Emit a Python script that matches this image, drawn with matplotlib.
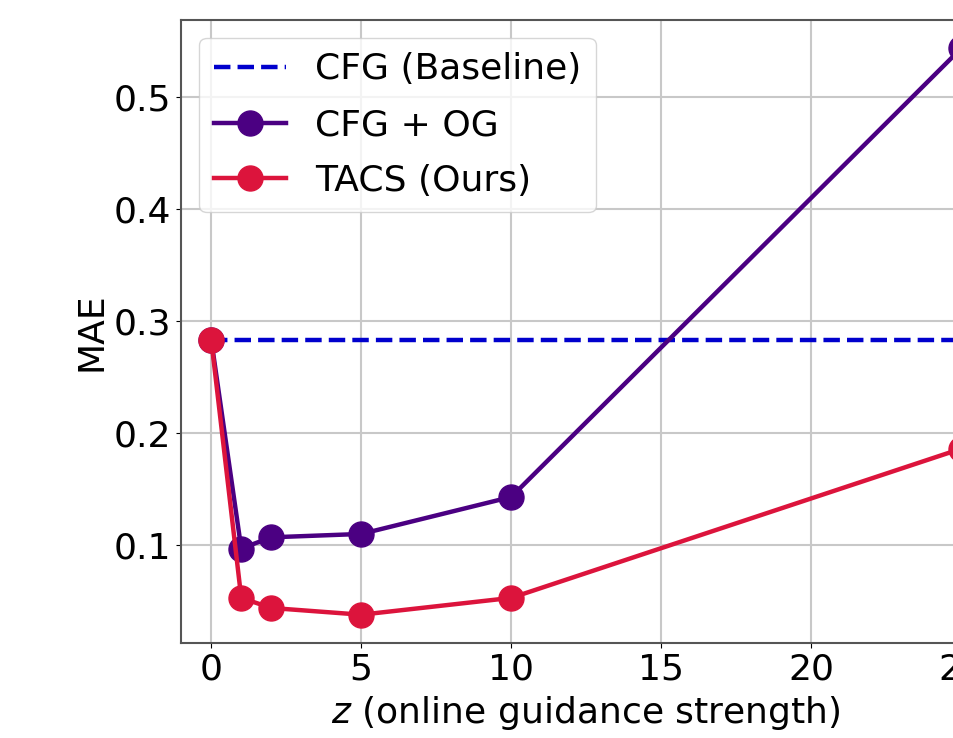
import numpy as np
import matplotlib
matplotlib.use("Agg")
import matplotlib.pyplot as plt

# online guidance strength values
z = [0, 1, 2, 5, 10, 25]
baseline_mae = 0.283
og_mae = [0.283, 0.097, 0.107, 0.110, 0.143, 0.543]
tacs_mae = [0.283, 0.053, 0.044, 0.038, 0.053, 0.186]

plt.rcParams['font.family'] = ['DejaVu Sans']
plt.rcParams['font.size'] = 26

fig = plt.figure(figsize=(9.54, 7.38), dpi=100)
# axes run past the right edge, like the cropped original
ax = fig.add_axes([0.190, 0.1287, 0.849, 0.8442])

ax.plot([z[0], z[-1]], [baseline_mae, baseline_mae], '--', color='mediumblue',
        linewidth=3.2, label='CFG (Baseline)')
ax.plot(z, og_mae, '-o', color='indigo', linewidth=3.2, markersize=18,
        label='CFG + OG')
ax.plot(z, tacs_mae, '-o', color='crimson', linewidth=3.2, markersize=18,
        label='TACS (Ours)')

ax.set_xlim(-1, 26)
ax.margins(y=0.05)
ax.set_xticks([0, 5, 10, 15, 20, 25])
ax.set_yticks([0.1, 0.2, 0.3, 0.4, 0.5])
ax.set_xlabel('$z$ (online guidance strength)', labelpad=5)
ax.set_ylabel('MAE')
ax.grid(color='#c8c8c8', linewidth=1.5)
for s in ax.spines.values():
    s.set_color('#555555')
    s.set_linewidth(1.5)
ax.legend(loc='upper left', fontsize=26, labelspacing=0.6)

fig.savefig('out.png', dpi=100)
